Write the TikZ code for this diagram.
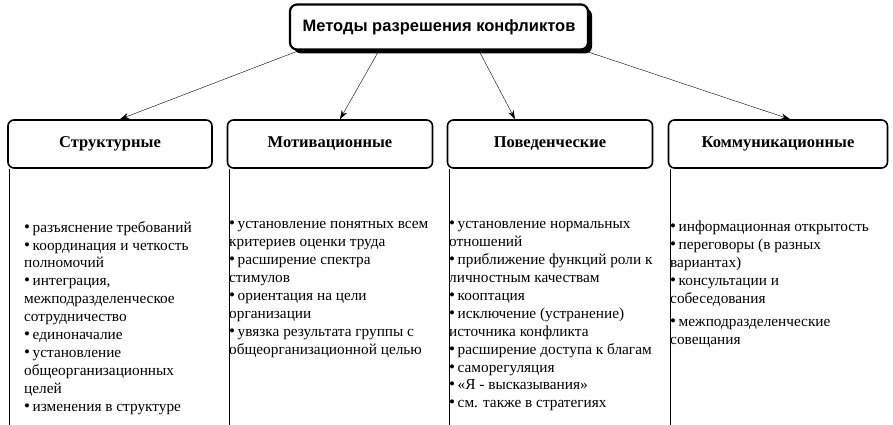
\documentclass[tikz,border=0pt]{standalone}
\usepackage{fontspec}
\setmainfont{Liberation Serif}
\newfontfamily\headfont{Liberation Sans}
\usetikzlibrary{positioning,shadows,arrows.meta}
\newcommand{\pt}{{\fontsize{17}{17}\selectfont•}\,}

\begin{document}
\begin{tikzpicture}[
			x=1pt, y=-1pt,
			head/.style = {draw, line width=2.2pt, rounded corners=7pt, fill=white,
				minimum width=298pt, minimum height=45pt,
				font=\headfont\bfseries\fontsize{16.5}{18}\selectfont,
				drop shadow={shadow xshift=4pt, shadow yshift=-4pt, fill=black, opacity=1}},
			kind/.style = {draw, line width=1.6pt, rounded corners=6pt,
				minimum height=48pt, font=\bfseries\fontsize{16.5}{18}\selectfont},
			list/.style = {anchor=north west, inner sep=0pt, align=left,
				font=\fontsize{15.3}{17.9}\selectfont},
			link/.style = {-{Stealth[length=9pt,width=6pt]}}
		]
		\useasboundingbox (0,0) rectangle (893,425);
		\node[head] (title) at (439,27) {Методы разрешения конфликтов};
		% Groups.
		\node[kind, minimum width=204pt] (s1) at (110,144) {Структурные};
		\node[kind, minimum width=205pt] (s2) at (330,144) {Мотивационные};
		\node[kind, minimum width=205pt] (s3) at (550,144) {Поведенческие};
		\node[kind, minimum width=219pt] (s4) at (778,144) {Коммуникационные};
		% Side lines.
		\coordinate (e1) at (9,425);
		\coordinate (e2) at (229,425);
		\coordinate (e3) at (449,425);
		\coordinate (e4) at (670,425);
		\foreach \i in {1,2,3,4}
			\draw[line width=.6pt] (s\i.south west -| e\i) -- (e\i);

		\draw[link] ([xshift=10pt]title.south west) to ([xshift=10pt]s1.north);
		\draw[link] ([xshift=90pt]title.south west) to ([xshift=10pt]s2.north);
		\draw[link] ([xshift=190pt]title.south west) to ([xshift=-35pt]s3.north);
		\draw[link] ([xshift=295pt]title.south west) to ([xshift=12pt]s4.north);

		% Lists.
		\node[list] (l1) at (24,221) {\pt разъяснение требований\\
			\pt координация и четкость\\полномочий\\
			\pt интеграция,\\межподразделенческое\\сотрудничество\\
			\pt единоначалие\\
			\pt установление\\общеорганизационных\\целей\\
			\pt изменения в структуре};
		\node[list] (l2) at (229,221) {\pt установление понятных всем\\критериев оценки труда\\
			\pt расширение спектра\\стимулов\\
			\pt ориентация на цели\\организации\\
			\pt увязка результата группы с\\общеорганизационной целью};
		\node[list] (l3) at (449,221) {\pt установление нормальных\\отношений\\
			\pt приближение функций роли к\\личностным качествам\\
			\pt кооптация\\
			\pt исключение (устранение)\\источника конфликта\\
			\pt расширение доступа к благам\\
			\pt саморегуляция\\
			\pt «Я - высказывания»\\
			\pt см. также в стратегиях};
		\node[list] (l4) at (670,221) {\pt информационная открытость\\
			\pt переговоры (в разных\\вариантах)\\
			\pt консультации и\\собеседования\\[5pt]
			\pt межподразделенческие\\совещания};
	\end{tikzpicture}
\end{document}
